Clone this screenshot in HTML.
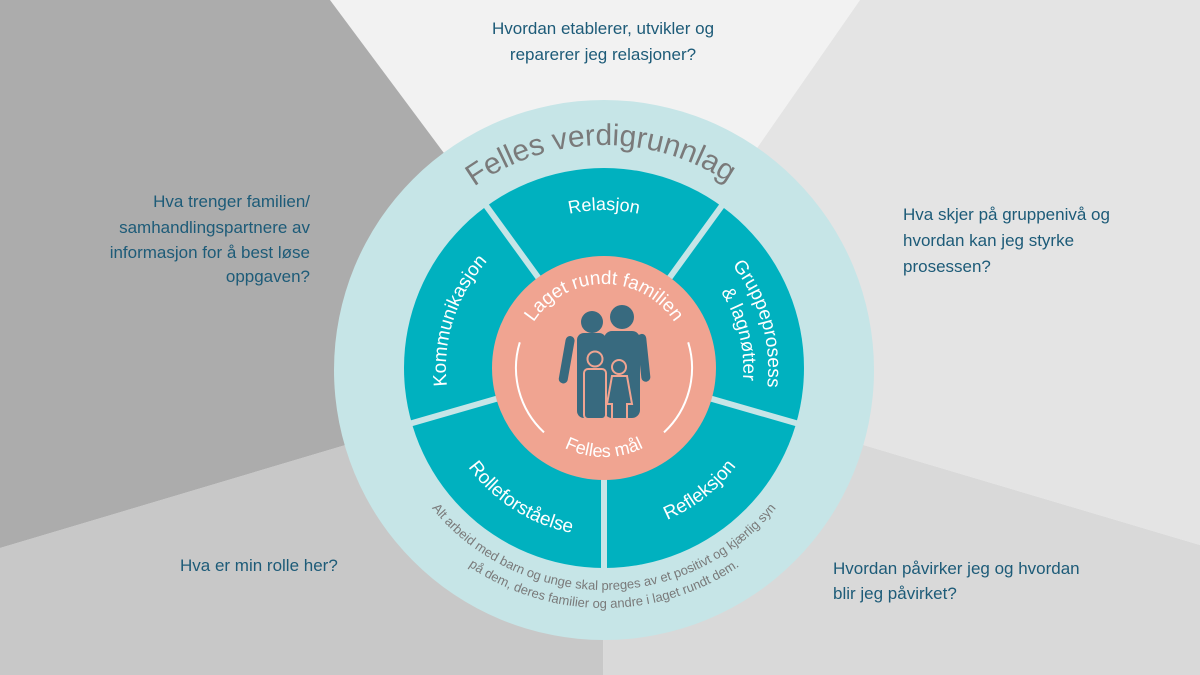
<!DOCTYPE html>
<html><head><meta charset="utf-8"><style>
html,body{margin:0;padding:0;width:1200px;height:675px;overflow:hidden;background:#fff}
svg{display:block}
.q{font-family:"Liberation Sans",sans-serif;font-size:17px;fill:#1d5b78}
.w{font-family:"Liberation Sans",sans-serif;fill:#fff}
</style></head><body>
<svg width="1200" height="675" viewBox="0 0 1200 675" xmlns="http://www.w3.org/2000/svg">
<defs>
<path id="pFelles" d="M381,368 A223,223 0 0 1 827,368"/>
<path id="pRel" d="M446,368 A158,158 0 0 1 762,368"/>
<path id="pGr" d="M558.5,209.4 A165,165 0 0 1 649.5,526.6"/>
<path id="pLag" d="M569.4,229.3 A143,143 0 0 1 638.6,506.7"/>
<path id="pKom" d="M555.2,518.3 A158,158 0 0 1 652.8,217.7"/>
<path id="pLaget" d="M520,368 A84,84 0 0 1 688,368"/>
<path id="pRol" d="M462.3,277.7 A168,168 0 0 0 745.7,458.3"/>
<path id="pRef" d="M473.2,470.2 A166,166 0 0 0 734.8,265.8"/>
<path id="pMal" d="M515,368 A89,89 0 0 0 693,368"/>
<path id="pL1" d="M382,368 A222,222 0 0 0 826,368"/>
<path id="pL2" d="M364,368 A240,240 0 0 0 844,368"/>
</defs>
<polygon points="330,0 860,0 604,368" fill="#f2f2f2"/>
<polygon points="860,0 1200,0 1200,545 604,368" fill="#e4e4e4"/>
<polygon points="1200,545 1200,675 603,675 604,368" fill="#d9d9d9"/>
<polygon points="603,675 0,675 0,548 604,368" fill="#c8c8c8"/>
<polygon points="0,548 0,0 330,0 604,368" fill="#acacac"/>

<circle cx="604" cy="370" r="270" fill="#c6e5e7"/>
<circle cx="604" cy="368" r="200" fill="#00b1bf"/>
<g stroke="#c6e5e7" stroke-width="6">
<line x1="539.3" y1="279" x2="485.3" y2="204.6"/>
<line x1="668.7" y1="279" x2="722.7" y2="204.6"/>
<line x1="709.7" y1="398.3" x2="798.2" y2="423.7"/>
<line x1="604" y1="478" x2="604" y2="570"/>
<line x1="498.3" y1="398.3" x2="409.8" y2="423.7"/>
</g>
<circle cx="604" cy="368" r="112" fill="#f0a491"/>

<path d="M519.8,342.3 A88,88 0 0 0 544,432.4" fill="none" stroke="#fff" stroke-width="2"/>
<path d="M688.2,342.3 A88,88 0 0 1 664,432.4" fill="none" stroke="#fff" stroke-width="2"/>

<g fill="#386a7f">
<circle cx="592" cy="322" r="11"/>
<circle cx="622" cy="317" r="12"/>
<rect x="577" y="333" width="29" height="85" rx="7"/>
<rect x="604" y="331" width="36" height="87" rx="8"/>
<rect x="566" y="336" width="9" height="48" rx="4.5" transform="rotate(10 570 338)"/>
<rect x="637" y="334" width="9" height="48" rx="4.5" transform="rotate(-6 641 336)"/>
</g>
<g fill="#386a7f" stroke="#f0a491" stroke-width="2">
<circle cx="595" cy="359" r="7.5"/>
<rect x="584" y="369" width="22" height="50" rx="4"/>
<circle cx="619" cy="367" r="7"/>
<path d="M612,376 L627,376 L632,404 L627,404 L627,419 L612,419 L612,404 L607,404 Z"/>
</g>

<text font-family="Liberation Sans,sans-serif" font-size="30" fill="#7a7a7a"><textPath href="#pFelles" startOffset="49.5%" text-anchor="middle">Felles verdigrunnlag</textPath></text>
<text class="w" font-size="18"><textPath href="#pRel" startOffset="50%" text-anchor="middle">Relasjon</textPath></text>
<text class="w" font-size="19"><textPath href="#pGr" startOffset="50%" text-anchor="middle">Gruppeprosess</textPath></text>
<text class="w" font-size="19"><textPath href="#pLag" startOffset="50%" text-anchor="middle">&amp; lagnøtter</textPath></text>
<text class="w" font-size="19"><textPath href="#pKom" startOffset="50%" text-anchor="middle">Kommunikasjon</textPath></text>
<text class="w" font-size="19"><textPath href="#pLaget" startOffset="50%" text-anchor="middle">Laget rundt familien</textPath></text>
<text class="w" font-size="19"><textPath href="#pRol" startOffset="50%" text-anchor="middle">Rolleforståelse</textPath></text>
<text class="w" font-size="19"><textPath href="#pRef" startOffset="50%" text-anchor="middle">Refleksjon</textPath></text>
<text class="w" font-size="18"><textPath href="#pMal" startOffset="50%" text-anchor="middle">Felles mål</textPath></text>
<text font-family="Liberation Sans,sans-serif" font-size="13" fill="#7a7a7a"><textPath href="#pL1" startOffset="50%" text-anchor="middle">Alt arbeid med barn og unge skal preges av et positivt og kjærlig syn</textPath></text>
<text font-family="Liberation Sans,sans-serif" font-size="13" fill="#7a7a7a"><textPath href="#pL2" startOffset="50%" text-anchor="middle">på dem, deres familier og andre i laget rundt dem.</textPath></text>

<text class="q" x="603" y="34" text-anchor="middle">Hvordan etablerer, utvikler og</text>
<text class="q" x="603" y="60" text-anchor="middle">reparerer jeg relasjoner?</text>
<text class="q" x="310" y="207" text-anchor="end">Hva trenger familien/</text>
<text class="q" x="310" y="233" text-anchor="end">samhandlingspartnere av</text>
<text class="q" x="310" y="258" text-anchor="end">informasjon for å best løse</text>
<text class="q" x="310" y="282" text-anchor="end">oppgaven?</text>
<text class="q" x="903" y="220">Hva skjer på gruppenivå og</text>
<text class="q" x="903" y="246">hvordan kan jeg styrke</text>
<text class="q" x="903" y="272">prosessen?</text>
<text class="q" x="180" y="571">Hva er min rolle her?</text>
<text class="q" x="833" y="574">Hvordan påvirker jeg og hvordan</text>
<text class="q" x="833" y="599">blir jeg påvirket?</text>
</svg>
</body></html>
